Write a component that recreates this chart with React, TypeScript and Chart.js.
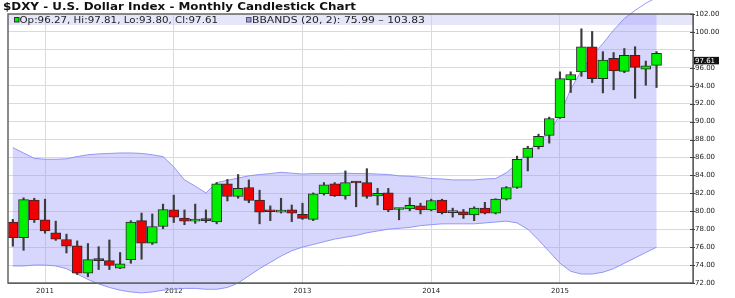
import React, { useEffect, useRef } from 'react';
import { Chart, registerables } from 'chart.js';

Chart.register(...registerables);

const titleText = '$DXY - U.S. Dollar Index - Monthly Candlestick Chart';

const months = [
  'Oct 2010', 'Nov 2010', 'Dec 2010',
  'Jan 2011', 'Feb 2011', 'Mar 2011', 'Apr 2011', 'May 2011', 'Jun 2011', 'Jul 2011', 'Aug 2011', 'Sep 2011', 'Oct 2011', 'Nov 2011', 'Dec 2011',
  'Jan 2012', 'Feb 2012', 'Mar 2012', 'Apr 2012', 'May 2012', 'Jun 2012', 'Jul 2012', 'Aug 2012', 'Sep 2012', 'Oct 2012', 'Nov 2012', 'Dec 2012',
  'Jan 2013', 'Feb 2013', 'Mar 2013', 'Apr 2013', 'May 2013', 'Jun 2013', 'Jul 2013', 'Aug 2013', 'Sep 2013', 'Oct 2013', 'Nov 2013', 'Dec 2013',
  'Jan 2014', 'Feb 2014', 'Mar 2014', 'Apr 2014', 'May 2014', 'Jun 2014', 'Jul 2014', 'Aug 2014', 'Sep 2014', 'Oct 2014', 'Nov 2014', 'Dec 2014',
  'Jan 2015', 'Feb 2015', 'Mar 2015', 'Apr 2015', 'May 2015', 'Jun 2015', 'Jul 2015', 'Aug 2015', 'Sep 2015', 'Oct 2015',
];

const opens = [78.80, 77.05, 81.25, 79.05, 77.60, 76.85, 76.15, 73.10, 74.60, 74.50, 73.65, 74.60, 78.95, 76.45, 78.30, 80.15, 79.25, 78.90, 79.05, 78.80, 83.05, 81.65, 82.65, 81.25, 80.15, 79.90, 80.15, 79.65, 79.10, 81.95, 83.05, 81.70, 83.20, 83.20, 81.70, 82.05, 80.20, 80.25, 80.60, 80.15, 81.25, 79.85, 79.95, 79.60, 80.35, 79.80, 81.35, 82.65, 86.00, 87.20, 88.45, 90.45, 94.65, 95.55, 98.35, 94.80, 97.05, 95.60, 97.40, 95.85, 96.27];
const highs = [79.10, 81.50, 81.45, 81.35, 78.90, 77.45, 76.70, 76.40, 76.05, 76.80, 75.40, 78.95, 79.80, 79.70, 80.80, 81.80, 80.15, 80.80, 80.15, 83.20, 83.55, 84.10, 83.50, 82.35, 80.60, 81.45, 80.70, 80.90, 82.05, 83.20, 83.20, 84.50, 83.30, 84.75, 82.55, 82.55, 80.30, 81.50, 80.90, 81.35, 81.35, 80.35, 80.20, 80.50, 81.00, 81.40, 82.75, 86.15, 87.25, 88.60, 90.50, 95.55, 95.55, 100.35, 100.05, 97.80, 97.70, 98.15, 98.35, 96.75, 97.81];
const lows = [76.10, 75.65, 78.75, 77.55, 76.75, 75.35, 72.95, 72.70, 73.50, 73.50, 73.60, 74.20, 74.65, 76.30, 78.05, 78.75, 78.50, 78.65, 78.75, 78.60, 81.15, 81.45, 80.95, 78.60, 78.95, 79.80, 78.85, 79.10, 78.95, 81.80, 81.65, 81.35, 80.50, 81.45, 80.70, 79.95, 79.05, 80.05, 79.70, 80.05, 79.70, 79.35, 79.20, 78.95, 79.70, 79.70, 81.25, 82.55, 84.50, 86.95, 87.60, 90.35, 93.25, 95.05, 94.35, 93.20, 93.55, 95.45, 92.60, 94.05, 93.80];
const closes = [77.05, 81.30, 79.05, 77.80, 76.90, 76.10, 73.10, 74.60, 74.50, 73.95, 74.15, 78.80, 76.45, 78.30, 80.20, 79.35, 78.90, 79.10, 78.95, 83.05, 81.65, 82.55, 81.20, 79.90, 79.95, 80.10, 79.80, 79.20, 81.95, 82.95, 81.70, 83.20, 83.15, 81.65, 82.00, 80.15, 80.25, 80.65, 80.15, 81.20, 79.85, 80.05, 79.60, 80.35, 79.80, 81.35, 82.65, 85.80, 87.05, 88.35, 90.35, 94.80, 95.25, 98.35, 94.80, 96.85, 95.65, 97.40, 96.05, 96.22, 97.61];

const upperBand = [87.1, 86.5, 85.9, 85.8, 85.8, 85.85, 86.1, 86.3, 86.4, 86.45, 86.5, 86.5, 86.45, 86.3, 86.1, 84.95, 83.5, 82.8, 82.05, 83.2, 83.45, 83.7, 83.95, 84.1, 84.2, 84.35, 84.25, 84.15, 84.2, 84.2, 84.2, 84.25, 84.2, 84.2, 84.15, 84.1, 83.95, 83.9, 83.8, 83.65, 83.6, 83.5, 83.5, 83.5, 83.6, 83.65, 84.3, 85.3, 86.6, 87.8, 88.7, 90.8, 93.6, 95.7, 97.4, 98.7, 100.2, 101.5, 102.4, 103.2, 103.83];
const lowerBand = [73.9, 73.9, 74.0, 74.0, 73.9, 73.6, 73.0, 72.4, 71.9, 71.5, 71.2, 71.0, 70.9, 71.0, 71.2, 71.3, 71.4, 71.4, 71.3, 71.3, 71.5, 72.0, 72.8, 73.6, 74.3, 75.0, 75.6, 76.0, 76.3, 76.6, 76.9, 77.1, 77.3, 77.6, 77.8, 78.0, 78.1, 78.2, 78.4, 78.5, 78.6, 78.6, 78.6, 78.6, 78.7, 78.8, 78.9, 78.7, 78.0, 76.8, 75.5, 74.2, 73.3, 73.0, 73.0, 73.2, 73.6, 74.2, 74.8, 75.4, 75.99];

const yearLabels = ['2011', '2012', '2013', '2014', '2015'];
const yearPositions = yearLabels.map((yr) => months.indexOf('Jan ' + yr));

const GREEN = '#00ee00';
const RED = '#f00000';

function fitText(ctx: CanvasRenderingContext2D, text: string, x: number, y: number, w: number) {
  const m = ctx.measureText(text).width;
  ctx.save();
  ctx.translate(x, y);
  ctx.scale(w / m, 1);
  ctx.fillText(text, 0, 0);
  ctx.restore();
}

const overlay = {
  id: 'overlay',
  beforeDatasetsDraw(chart: any) {
    const { ctx, chartArea: a, scales } = chart;
    const xs = scales.x;
    const ys = scales.y;
    ctx.save();
    // legend strip
    ctx.fillStyle = 'rgba(205,205,248,0.5)';
    ctx.fillRect(a.left, a.top, a.right - a.left, 11);
    // band fill (clipped at the top only)
    ctx.beginPath();
    ctx.rect(0, a.top, chart.width, chart.height - a.top);
    ctx.clip();
    ctx.beginPath();
    upperBand.forEach((v, i) => {
      const px = xs.getPixelForValue(i);
      const py = ys.getPixelForValue(v);
      if (i === 0) ctx.moveTo(px, py);
      else ctx.lineTo(px, py);
    });
    for (let i = lowerBand.length - 1; i >= 0; i--) {
      ctx.lineTo(xs.getPixelForValue(i), ys.getPixelForValue(lowerBand[i]));
    }
    ctx.closePath();
    ctx.fillStyle = 'rgba(150,150,250,0.38)';
    ctx.fill();
    ctx.restore();
  },
  afterDraw(chart: any) {
    const { ctx, chartArea: a, scales } = chart;
    const ys = scales.y;
    const n = closes.length - 1;
    ctx.save();
    // frame
    ctx.strokeStyle = '#666';
    ctx.lineWidth = 1.5;
    ctx.strokeRect(a.left, a.top, a.right - a.left, a.bottom - a.top);
    // y tick marks
    ctx.strokeStyle = '#444';
    ctx.lineWidth = 1;
    ys.ticks.forEach((t: any) => {
      const py = Math.round(ys.getPixelForValue(t.value)) + 0.5;
      ctx.beginPath();
      ctx.moveTo(a.right - 3, py);
      ctx.lineTo(a.right + 2, py);
      ctx.stroke();
    });
    // title
    ctx.fillStyle = '#111';
    ctx.textBaseline = 'alphabetic';
    ctx.font = 'bold 11px "DejaVu Sans"';
    fitText(ctx, titleText, 3, 10, 353);
    // legend
    ctx.font = '9px "DejaVu Sans"';
    ctx.fillStyle = GREEN;
    ctx.fillRect(14.5, 17.5, 4.5, 4.5);
    ctx.strokeStyle = '#333';
    ctx.strokeRect(14.5, 17.5, 4.5, 4.5);
    ctx.fillStyle = '#9c9cf0';
    ctx.fillRect(246.5, 17.5, 4.5, 4.5);
    ctx.strokeStyle = '#555';
    ctx.strokeRect(246.5, 17.5, 4.5, 4.5);
    ctx.fillStyle = '#222';
    const ohlc = `Op:${opens[n].toFixed(2)}, Hi:${highs[n].toFixed(2)}, Lo:${lows[n].toFixed(2)}, Cl:${closes[n].toFixed(2)}`;
    fitText(ctx, ohlc, 19.5, 22.5, 198.5);
    const bb = `BBANDS (20, 2): ${lowerBand[n].toFixed(2)} \u2013 ${upperBand[n].toFixed(2)}`;
    fitText(ctx, bb, 252, 22.5, 173);
    // last price box
    const py = ys.getPixelForValue(closes[n]) + 7;
    ctx.fillStyle = '#111';
    ctx.fillRect(a.right + 1, py - 3.5, 25, 7.5);
    ctx.fillStyle = '#fff';
    ctx.font = '7px "DejaVu Sans"';
    ctx.textBaseline = 'middle';
    ctx.fillText(closes[n].toFixed(2), a.right + 2, py + 0.5);
    ctx.restore();
  },
};

export default function App() {
  const ref = useRef<HTMLCanvasElement>(null);
  useEffect(() => {
    document.body.style.margin = '0';
    const canvas = ref.current!;
    const idx = months.map((_, i) => i);
    const chart = new Chart(canvas, {
      type: 'bar',
      data: {
        datasets: [
          {
            type: 'bar',
            label: 'body',
            data: idx.map((i) => ({ x: i, y: [opens[i], closes[i]] })) as any,
            backgroundColor: idx.map((i) => (closes[i] >= opens[i] ? GREEN : RED)),
            borderColor: '#2a2a2a',
            borderWidth: 1,
            borderSkipped: false,
            barThickness: 10,
            minBarLength: 2,
            grouped: false,
          } as any,
          {
            type: 'bar',
            label: 'wick',
            data: idx.map((i) => ({ x: i, y: [lows[i], highs[i]] })) as any,
            backgroundColor: '#3c3c3c',
            borderWidth: 0,
            barThickness: 1.5,
            grouped: false,
          } as any,
          {
            type: 'line',
            label: 'upper',
            data: idx.map((i) => ({ x: i, y: upperBand[i] })) as any,
            borderColor: 'rgba(140,140,245,0.9)',
            borderWidth: 1,
            pointRadius: 0,
            tension: 0,
            fill: false,
            clip: false,
          } as any,
          {
            type: 'line',
            label: 'lower',
            data: idx.map((i) => ({ x: i, y: lowerBand[i] })) as any,
            borderColor: 'rgba(140,140,245,0.9)',
            borderWidth: 1,
            pointRadius: 0,
            tension: 0,
            fill: false,
            clip: false,
          } as any,
        ],
      },
      plugins: [overlay],
      options: {
        responsive: false,
        animation: false,
        devicePixelRatio: 1,
        layout: { padding: { top: 14, left: 8, right: 0, bottom: 0 } },
        plugins: {
          legend: { display: false },
          tooltip: { enabled: false },
          title: { display: false },
        },
        scales: {
          x: {
            type: 'linear',
            min: -0.45,
            max: 63.4,
            offset: false,
            grid: { offset: false, color: '#dadada', drawTicks: false },
            border: { color: '#555', width: 1 },
            afterBuildTicks: (s: any) => {
              s.ticks = yearPositions.map((v) => ({ value: v }));
            },
            afterFit: (s: any) => {
              s.height = 15;
            },
            ticks: {
              padding: 4,
              autoSkip: false,
              maxRotation: 0,
              color: '#222',
              font: { family: 'DejaVu Sans', size: 7 },
              callback: (v: any) => {
                const k = yearPositions.indexOf(Number(v));
                return k >= 0 ? yearLabels[k] : '';
              },
            },
          },
          y: {
            position: 'right',
            min: 72,
            max: 102,
            grid: { color: '#dadada', drawTicks: false },
            border: { color: '#555', width: 1 },
            afterFit: (s: any) => {
              s.width = 42;
            },
            ticks: {
              stepSize: 2,
              padding: 2,
              color: '#222',
              font: { family: 'DejaVu Sans', size: 7 },
              callback: (v: any) => (Math.abs(Number(v) - 98) < 1e-6 ? '' : Number(v).toFixed(2)),
            },
          },
        },
      } as any,
    });
    return () => chart.destroy();
  }, []);
  return <canvas ref={ref} width={735} height={298} style={{ display: 'block' }} />;
}
